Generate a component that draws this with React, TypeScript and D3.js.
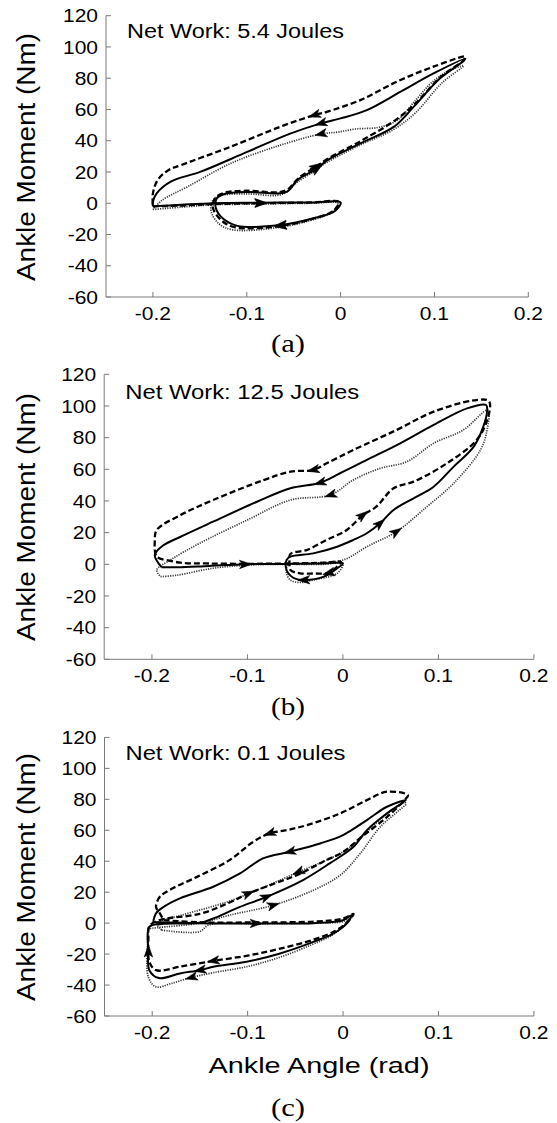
import React from 'react';
import * as d3 from 'd3';

type Pt = [number, number];

// tick values shared by all three panels
const xTicks = [-0.2, -0.1, 0, 0.1, 0.2];
const yTicks = [-60, -40, -20, 0, 20, 40, 60, 80, 100, 120];
const panelNames = ['(a)', '(b)', '(c)'];
const netWork = ['Net Work: 5.4 Joules', 'Net Work: 12.5 Joules', 'Net Work: 0.1 Joules'];

// panel (a): ankle angle (rad) vs moment (Nm), three trials
const aSolid: Pt[] = [
  [-0.2, -2], [-0.17, -1], [-0.135, 0], [-0.085, 0.3], [-0.03, 0.5], [0, 0.5], [-0.006, -5], [-0.028, -9.5],
  [-0.064, -14], [-0.11, -14.5], [-0.125, -10], [-0.133, -3], [-0.132, 3], [-0.124, 5.9], [-0.099, 7.2],
  [-0.067, 6.3], [-0.057, 7.4], [-0.046, 14.8], [-0.025, 22.3], [-0.014, 27.6], [0.021, 38.3], [0.057, 49],
  [0.078, 61.8], [0.106, 79.9], [0.131, 91], [0.133, 92.5], [0.099, 83.1], [0.064, 71.4], [0.028, 59.6],
  [0, 54.3], [-0.021, 51.1], [-0.053, 44.7], [-0.099, 33], [-0.149, 20.2], [-0.181, 13.8], [-0.196, 6.3],
  [-0.2, 1], [-0.2, -2],
];
const aSolidArrows = [3, 8, 18, 30];
const aDashed: Pt[] = [
  [-0.2, -2], [-0.17, -1.5], [-0.135, -0.5], [-0.085, 0], [-0.03, 0.5], [-0.002, 0.8], [-0.008, -5], [-0.03, -10],
  [-0.064, -14.5], [-0.112, -15.5], [-0.127, -11], [-0.136, -3], [-0.134, 3], [-0.125, 6.5], [-0.1, 8],
  [-0.066, 7], [-0.056, 9], [-0.045, 16], [-0.026, 23.5], [-0.012, 29], [0.022, 40], [0.058, 53], [0.08, 64],
  [0.107, 81], [0.131, 91.5], [0.133, 93.8], [0.099, 87.4], [0.06, 77.8], [0.021, 66], [-0.014, 58.6],
  [-0.028, 56.4], [-0.064, 49], [-0.117, 36.2], [-0.17, 24.4], [-0.184, 21], [-0.195, 14.8], [-0.2, 6.3], [-0.2, -2],
];
const aDashedArrows = [3, 8, 18, 30];
const aDotted: Pt[] = [
  [-0.2, -4], [-0.17, -2.5], [-0.135, -1], [-0.085, -0.5], [-0.03, 0], [-0.003, 0], [-0.01, -6], [-0.032, -11],
  [-0.066, -15.5], [-0.115, -17], [-0.13, -13], [-0.138, -5], [-0.136, 2], [-0.127, 5], [-0.1, 6], [-0.068, 5],
  [-0.058, 7], [-0.047, 13], [-0.027, 21], [-0.015, 26], [0.02, 37], [0.056, 47], [0.08, 58], [0.108, 77],
  [0.131, 88], [0.11, 83], [0.095, 76], [0.08, 66], [0.06, 53], [0.04, 48.5], [0.016, 47.5], [-0.003, 45.5],
  [-0.021, 44.3], [-0.064, 37.2], [-0.117, 25.5], [-0.163, 10.6], [-0.19, 2], [-0.2, -4],
];
const aDottedArrows = [32];

// panel (b)
const bSolid: Pt[] = [
  [-0.19, -1.8], [-0.173, -1.9], [-0.14, -1], [-0.102, 0], [-0.06, 0.3], [-0.02, 0.5], [0, 0.6], [-0.006, -2.5],
  [-0.02, -7.8], [-0.041, -9.9], [-0.052, -8.5], [-0.059, -3.6], [-0.059, 2.7], [-0.055, 4.8], [-0.031, 6.9],
  [-0.006, 11.1], [0.011, 15.4], [0.025, 19.6], [0.039, 25.9], [0.053, 34.3], [0.074, 41.7], [0.095, 49],
  [0.116, 61.7], [0.137, 74.3], [0.147, 86.9], [0.151, 97], [0.15, 100.6], [0.13, 98.5], [0.095, 88],
  [0.06, 76.4], [0.025, 65.9], [-0.003, 57.5], [-0.024, 51.5], [-0.055, 48], [-0.09, 39.5], [-0.136, 26.9],
  [-0.17, 17.4], [-0.188, 12], [-0.197, 6], [-0.19, -1.8],
];
const bSolidArrows = [3, 9, 18, 32];
const bDashed: Pt[] = [
  [-0.184, 2.7], [-0.17, 1], [-0.14, 0.5], [-0.1, 0.3], [-0.06, 0.5], [-0.02, 1], [-0.002, 1.5], [-0.008, -2.5],
  [-0.015, -5.5], [-0.03, -5.8], [-0.045, -5.7], [-0.055, -3.6], [-0.056, 1], [-0.055, 6.5], [-0.038, 9],
  [-0.017, 15.4], [0.004, 21.7], [0.021, 31.1], [0.035, 36.4], [0.053, 48], [0.074, 52.2], [0.109, 63.8],
  [0.14, 78.5], [0.151, 91], [0.153, 103], [0.137, 103.5], [0.095, 96.4], [0.056, 84.8], [0.011, 72.2],
  [-0.017, 63.8], [-0.031, 59.6], [-0.055, 58.5], [-0.083, 53.2], [-0.136, 40.6], [-0.17, 31.1],
  [-0.195, 21.7], [-0.197, 15.3], [-0.195, 4.8], [-0.184, 2.7],
];
const bDashedArrows = [8, 17, 30];
const bDotted: Pt[] = [
  [-0.191, -7.8], [-0.173, -6.8], [-0.136, -2.5], [-0.1, -0.5], [-0.06, 0], [-0.02, 0], [0, 0.5], [-0.006, -5.7],
  [-0.031, -9.9], [-0.045, -11.5], [-0.055, -10], [-0.059, -5.7], [-0.058, -1], [-0.04, 0.5], [0, 2.7],
  [0.025, 11.1], [0.056, 20.6], [0.088, 36.4], [0.116, 51.2], [0.144, 72.2], [0.151, 85], [0.152, 97.5],
  [0.126, 84.8], [0.095, 76.4], [0.067, 64.8], [0.039, 60.6], [0.011, 53.3], [-0.013, 43.8], [-0.055, 40.6],
  [-0.1, 28], [-0.15, 13.3], [-0.18, 3], [-0.195, -3.6], [-0.191, -7.8],
];
const bDottedArrows = [16, 27];

// panel (c)
const cSolid: Pt[] = [
  [-0.199, 0.8], [-0.15, 0], [-0.091, -0.2], [-0.031, 0], [0, 1.9], [0.009, 5.2], [0.004, -0.2], [-0.01, -6.7],
  [-0.031, -12.1], [-0.066, -19.6], [-0.101, -25], [-0.136, -28.2], [-0.15, -30.4], [-0.171, -32.5],
  [-0.193, -35.5], [-0.203, -30.4], [-0.204, -18], [-0.203, -2.4], [-0.19, -0.5], [-0.15, 0.2], [-0.136, 3],
  [-0.108, 10.5], [-0.08, 17], [-0.042, 27.8], [-0.014, 38.6], [0.011, 49.3], [0.025, 60.1], [0.046, 70.9],
  [0.066, 79.5], [0.046, 75.2], [0.025, 66.6], [0, 56.9], [-0.024, 51.5], [-0.056, 46.1], [-0.084, 41.8],
  [-0.108, 32.1], [-0.136, 23.5], [-0.171, 16], [-0.188, 10.5], [-0.196, 6.3], [-0.199, 0.8],
];
const cSolidArrows = [2, 12, 16, 22, 33];
const cDashed: Pt[] = [
  [-0.188, 1.9], [-0.15, 0.5], [-0.09, 0.5], [-0.03, 1], [0, 3], [0.011, 6], [0.005, 1], [-0.008, -5],
  [-0.03, -10.5], [-0.066, -16.5], [-0.1, -21], [-0.136, -24.4], [-0.17, -28], [-0.196, -30.4], [-0.203, -25],
  [-0.204, -10], [-0.203, -2], [-0.192, 2], [-0.15, 6], [-0.12, 13], [-0.099, 19.2], [-0.07, 26], [-0.045, 32],
  [-0.02, 40], [0, 46], [0.02, 56], [0.045, 68], [0.066, 80.6], [0.068, 82.7], [0.046, 84.9], [0.025, 79.5],
  [-0.003, 70.9], [-0.038, 63.3], [-0.059, 60.1], [-0.077, 58], [-0.094, 52.6], [-0.119, 40.7], [-0.153, 29.9],
  [-0.18, 22], [-0.192, 17], [-0.196, 10.5], [-0.192, 6.3], [-0.188, 1.9],
];
const cDashedArrows = [11, 20, 34];
const cDotted: Pt[] = [
  [-0.19, -4.5], [-0.151, -5.6], [-0.14, -1], [-0.09, -0.5], [-0.03, 0], [0, 1], [0.006, 3], [0, -2],
  [-0.012, -8], [-0.033, -14], [-0.066, -22], [-0.1, -28], [-0.136, -32], [-0.159, -35.1], [-0.18, -39],
  [-0.196, -41.2], [-0.204, -35], [-0.205, -15], [-0.203, -4], [-0.195, -3], [-0.15, 0], [-0.12, 5],
  [-0.073, 11.6], [-0.031, 21.3], [-0.003, 31], [0.018, 45], [0.039, 62.2], [0.059, 73], [0.066, 77],
  [0.064, 78], [0.045, 70], [0.03, 62], [0.015, 53], [0, 46], [-0.02, 40], [-0.047, 33], [-0.08, 24],
  [-0.12, 14], [-0.17, 5], [-0.195, 0], [-0.19, -4.5],
];
const cDottedArrows = [13, 22, 35];

interface Series { pts: Pt[]; arrows: number[]; kind: 'solid' | 'dashed' | 'dotted' }

const panelSeries: Series[][] = [
  [
    { pts: aDotted, arrows: aDottedArrows, kind: 'dotted' },
    { pts: aDashed, arrows: aDashedArrows, kind: 'dashed' },
    { pts: aSolid, arrows: aSolidArrows, kind: 'solid' },
  ],
  [
    { pts: bDotted, arrows: bDottedArrows, kind: 'dotted' },
    { pts: bDashed, arrows: bDashedArrows, kind: 'dashed' },
    { pts: bSolid, arrows: bSolidArrows, kind: 'solid' },
  ],
  [
    { pts: cDotted, arrows: cDottedArrows, kind: 'dotted' },
    { pts: cDashed, arrows: cDashedArrows, kind: 'dashed' },
    { pts: cSolid, arrows: cSolidArrows, kind: 'solid' },
  ],
];

const boxes = [
  { left: 106, right: 528.3, top: 15.7, bottom: 297, title: 37.5, titleLen: 217, ylab: 157, cap: 352 },
  { left: 104.2, right: 533.9, top: 374.3, bottom: 659.3, title: 399, titleLen: 234, ylab: 517, cap: 715 },
  { left: 104.5, right: 533.9, top: 737.4, bottom: 1016, title: 760, titleLen: 220, ylab: 877, cap: 1116 },
];

const sans = '"Liberation Sans", Arial, Helvetica, sans-serif';
const serif = '"Liberation Serif", "Times New Roman", serif';
const axisGrey = '#7a7a7a';

const styles = {
  solid: { width: 2, dash: undefined as string | undefined, color: '#000' },
  dashed: { width: 2.3, dash: '6,3', color: '#000' },
  dotted: { width: 1.7, dash: '1.2,1.2', color: '#3a3a3a' },
};

const Panel: React.FC<{ idx: number }> = ({ idx }) => {
  const b = boxes[idx];
  const x = d3.scaleLinear().domain([-0.25, 0.2]).range([b.left, b.right]);
  const y = d3.scaleLinear().domain([-60, 120]).range([b.bottom, b.top]);
  const line = d3.line<Pt>()
    .x(d => x(d[0]))
    .y(d => y(d[1]))
    .curve(d3.curveCatmullRom.alpha(0.5));

  const arrowHead = (pts: Pt[], i: number) => {
    const p = pts[i];
    const a = pts[Math.max(0, i - 1)];
    const c = pts[Math.min(pts.length - 1, i + 1)];
    let dx = x(c[0]) - x(a[0]);
    let dy = y(c[1]) - y(a[1]);
    const len = Math.hypot(dx, dy) || 1;
    dx /= len; dy /= len;
    const px = -dy, py = dx;
    const tx = x(p[0]) + dx * 6, ty = y(p[1]) + dy * 6;
    const bx = tx - dx * 12, by = ty - dy * 12;
    const nx = tx - dx * 9, ny = ty - dy * 9;
    return `M${tx},${ty}L${bx + px * 4.2},${by + py * 4.2}L${nx},${ny}L${bx - px * 4.2},${by - py * 4.2}Z`;
  };

  return (
    <g>
      {/* axes */}
      <line x1={b.left} x2={b.left} y1={b.top} y2={b.bottom} stroke={axisGrey} strokeWidth={1} />
      <line x1={b.left} x2={b.right} y1={b.bottom} y2={b.bottom} stroke={axisGrey} strokeWidth={1} />
      {yTicks.map(t => (
        <g key={'y' + t}>
          <line x1={b.left} x2={b.left + 5} y1={y(t)} y2={y(t)} stroke={axisGrey} />
          <text transform={`translate(${b.left - 8},${y(t) + 6.6}) scale(1.13,1)`} textAnchor="end"
            fontFamily={sans} fontSize={18.6} fill="#000">{t}</text>
        </g>
      ))}
      {xTicks.map(t => (
        <g key={'x' + t}>
          <line x1={x(t)} x2={x(t)} y1={b.bottom} y2={b.bottom - 5} stroke={axisGrey} />
          <text transform={`translate(${x(t)},${b.bottom + 23}) scale(1.13,1)`} textAnchor="middle"
            fontFamily={sans} fontSize={18.6} fill="#000">{t === 0 ? '0' : String(t)}</text>
        </g>
      ))}

      {/* loops */}
      {panelSeries[idx].map((s, k) => {
        const st = styles[s.kind];
        return (
          <g key={k}>
            <path d={line(s.pts) || ''} fill="none" stroke={st.color} strokeWidth={st.width}
              strokeDasharray={st.dash} strokeLinejoin="round" />
            {s.arrows.map(i => (
              <path key={i} d={arrowHead(s.pts, i)} fill="#000" stroke="#000" strokeWidth={0.6} />
            ))}
          </g>
        );
      })}

      {/* labels */}
      <text x={b.left + 21} y={b.title} fontFamily={sans} fontSize={19.5} textLength={b.titleLen}
        lengthAdjust="spacingAndGlyphs">{netWork[idx]}</text>
      <text transform={`translate(35,${b.ylab}) rotate(-90)`} textAnchor="middle" fontFamily={sans}
        fontSize={25} textLength={248} lengthAdjust="spacingAndGlyphs">Ankle Moment (Nm)</text>
      {idx === 2 && (
        <text x={319} y={1073} textAnchor="middle" fontFamily={sans} fontSize={22.5} textLength={221}
          lengthAdjust="spacingAndGlyphs">Ankle Angle (rad)</text>
      )}
      <text x={288} y={b.cap} textAnchor="middle" fontFamily={serif} fontSize={25} textLength={34}
        lengthAdjust="spacingAndGlyphs">{panelNames[idx]}</text>
    </g>
  );
};

export default function App() {
  return (
    <svg width={557} height={1123} style={{ position: 'absolute', left: 0, top: 0, background: '#fff' }}>
      <rect width={557} height={1123} fill="#fff" />
      {[0, 1, 2].map(i => <Panel key={i} idx={i} />)}
    </svg>
  );
}
